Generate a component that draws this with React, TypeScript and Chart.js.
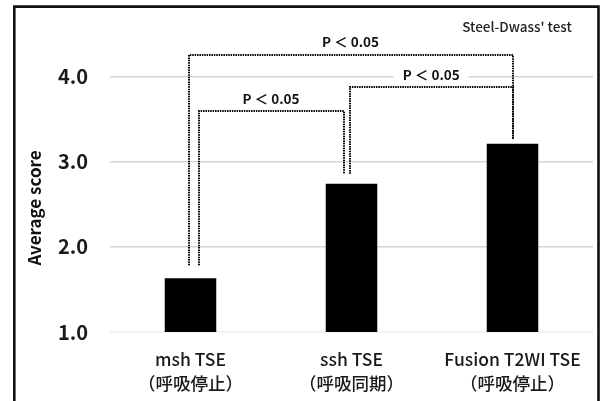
import React, { useEffect, useRef } from "react";
import Chart from "chart.js/auto";

// ---- data ----
const categories = [
  ["msh TSE", "（呼吸停止）"],
  ["ssh TSE", "（呼吸同期）"],
  ["Fusion T2WI TSE", "（呼吸停止）"],
];
const scores = [1.63, 2.74, 3.21];
const yTicks = [1, 2, 3, 4];
const yMin = 1;
const yMax = 4.5;
const comparisonFrom = [0, 1, 0];
const comparisonTo = [2, 2, 1];
const comparisonLabels = ["P ＜ 0.05", "P ＜ 0.05", "P ＜ 0.05"];
const comparisonLevels = [4.255, 3.873, 3.595];
const testName = "Steel-Dwass' test";
const yTitle = "Average score";

// ---- styles ----
const FONT = "'Noto Sans CJK JP', 'Noto Sans', sans-serif";
const legOffsetFrom = [-2, -1.5, 8];
const legOffsetTo = [0, 0, -8];
const legGapPx = [13, 10, 5];

const overlay = {
  id: "overlay",
  afterDatasetsDraw(chart: any) {
    const { ctx, scales } = chart;
    const y = scales.y;
    const meta = chart.getDatasetMeta(0);
    ctx.save();
    ctx.strokeStyle = "#000";
    ctx.lineWidth = 2;
    ctx.setLineDash([1.5, 0.9]);
    for (let i = 0; i < comparisonFrom.length; i++) {
      const a = meta.data[comparisonFrom[i]];
      const b = meta.data[comparisonTo[i]];
      const x0 = Math.round(a.x + legOffsetFrom[i]);
      const x1 = Math.round(b.x + legOffsetTo[i]);
      const y0 = a.y - legGapPx[comparisonFrom[i]];
      const y1 = b.y - legGapPx[comparisonTo[i]];
      const yt = Math.round(y.getPixelForValue(comparisonLevels[i]));
      ctx.beginPath();
      ctx.moveTo(x0, y0);
      ctx.lineTo(x0, yt);
      ctx.lineTo(x1, yt);
      ctx.lineTo(x1, y1);
      ctx.stroke();
    }
    ctx.setLineDash([]);
    ctx.font = `bold 13.5px ${FONT}`;
    ctx.textAlign = "center";
    ctx.textBaseline = "middle";
    for (let i = 0; i < comparisonFrom.length; i++) {
      const a = meta.data[comparisonFrom[i]];
      const b = meta.data[comparisonTo[i]];
      const cx = (a.x + legOffsetFrom[i] + b.x + legOffsetTo[i]) / 2;
      const yt = y.getPixelForValue(comparisonLevels[i]);
      const w = ctx.measureText(comparisonLabels[i]).width;
      ctx.fillStyle = "#fff";
      ctx.fillRect(cx - w / 2 - 9, yt - 21, w + 18, 16);
      ctx.fillStyle = "#111";
      ctx.fillText(comparisonLabels[i], cx, yt - 12.5);
    }
    ctx.restore();
  },
  afterDraw(chart: any) {
    const { ctx } = chart;
    ctx.save();
    // test name
    ctx.font = `500 13.5px ${FONT}`;
    ctx.fillStyle = "#222";
    ctx.textAlign = "center";
    ctx.textBaseline = "middle";
    ctx.fillText(testName, 517, 27);
    // y title
    ctx.translate(35, 208);
    ctx.rotate(-Math.PI / 2);
    ctx.font = `bold 17px ${FONT}`;
    ctx.fillStyle = "#111";
    ctx.fillText(yTitle, 0, 0);
    ctx.restore();
    // frame
    ctx.save();
    ctx.strokeStyle = "#111";
    ctx.lineWidth = 2.6;
    ctx.beginPath();
    ctx.moveTo(14.3, 420);
    ctx.lineTo(14.3, 6.6);
    ctx.lineTo(598.5, 6.6);
    ctx.lineTo(598.5, 420);
    ctx.stroke();
    ctx.restore();
  },
};

export default function App() {
  const ref = useRef<HTMLCanvasElement | null>(null);
  useEffect(() => {
    if (!ref.current) return;
    const chart = new Chart(ref.current, {
      type: "bar",
      data: {
        labels: categories,
        datasets: [
          {
            data: scores,
            backgroundColor: "#000",
            borderWidth: 0,
            barPercentage: 0.32,
            categoryPercentage: 1,
          },
        ],
      },
      options: {
        responsive: false,
        animation: false,
        layout: { padding: { top: 30, right: 12, left: 0, bottom: 0 } },
        plugins: { legend: { display: false }, tooltip: { enabled: false } },
        scales: {
          x: {
            grid: { display: false },
            border: { display: false },
            ticks: {
              color: "#1a1a1a",
              padding: 8,
              font: { family: FONT, size: 17.5, weight: "500", lineHeight: 1.33 },
            },
            afterFit: (s: any) => {
              s.height = 69;
            },
          },
          y: {
            min: yMin,
            max: yMax,
            border: { display: false },
            grid: {
              drawTicks: false,
              lineWidth: 1.5,
              color: (c: any) => (c.tick && c.tick.value === yMin ? "#eeeeee" : "#d6d6d6"),
            },
            afterBuildTicks: (axis: any) => {
              axis.ticks = yTicks.map((v) => ({ value: v }));
            },
            ticks: {
              color: "#1a1a1a",
              padding: 22,
              font: { family: FONT, size: 20, weight: "600" },
              callback: (v: any) => Number(v).toFixed(1),
            },
            afterFit: (s: any) => {
              s.width = 110;
            },
          },
        },
      },
      plugins: [overlay],
    });
    return () => chart.destroy();
  }, []);
  return (
    <div style={{ position: "fixed", left: 0, top: 0, width: 605, height: 401, background: "#fff" }}>
      <canvas ref={ref} width={605} height={401} style={{ display: "block", width: 605, height: 401 }} />
    </div>
  );
}
